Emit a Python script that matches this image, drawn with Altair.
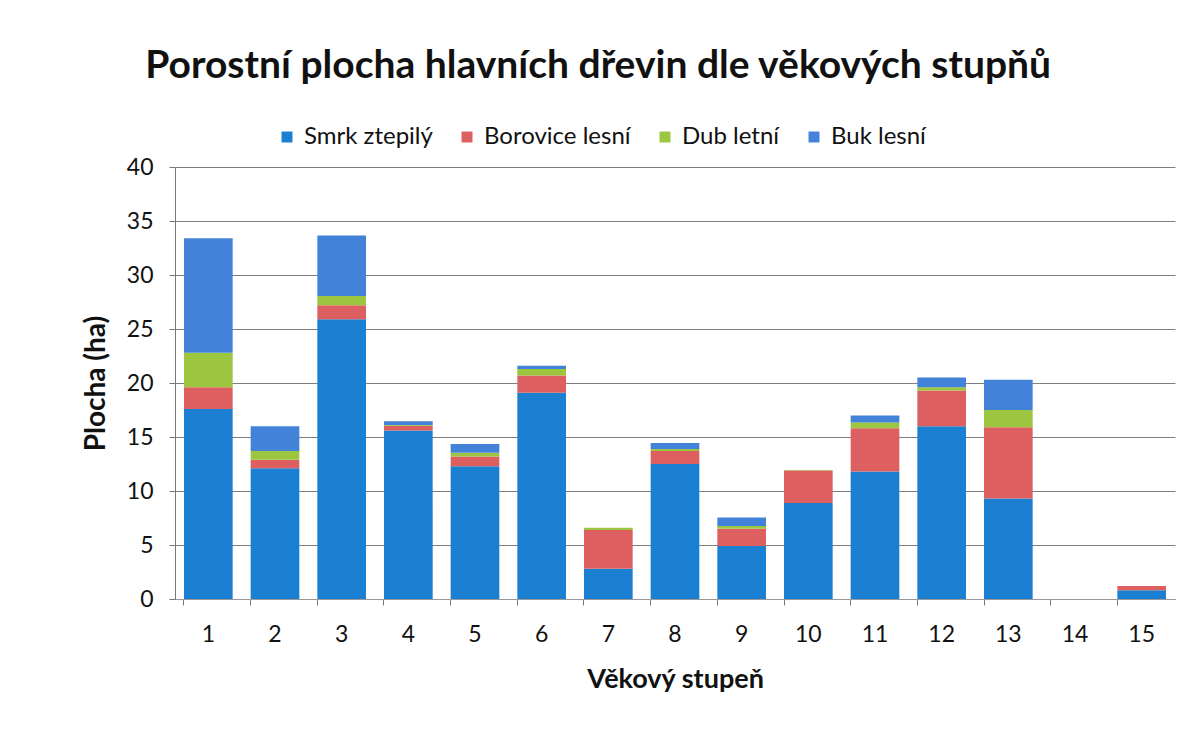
import altair as alt
import pandas as pd

stupne = [str(i) for i in range(1, 16)]
dreviny = ["Smrk ztepilý", "Borovice lesní", "Dub letní", "Buk lesní"]
smrk = [17.6, 12.1, 25.9, 15.6, 12.3, 19.1, 2.8, 12.5, 4.9, 8.9, 11.8, 16.0, 9.3, 0, 0.8]
borovice = [2.0, 0.8, 1.3, 0.45, 0.9, 1.6, 3.6, 1.2, 1.6, 3.0, 4.0, 3.3, 6.6, 0, 0.4]
dub = [3.2, 0.8, 0.85, 0.05, 0.35, 0.6, 0.2, 0.2, 0.25, 0.05, 0.55, 0.3, 1.6, 0, 0]
buk = [10.6, 2.3, 5.6, 0.35, 0.8, 0.3, 0, 0.55, 0.8, 0, 0.65, 0.9, 2.8, 0, 0]
barvy = ["#1b7fd2", "#de5f5f", "#9cc63f", "#4282d8"]

rows = []
for serie, hodnoty in zip(dreviny, [smrk, borovice, dub, buk]):
    for s, v in zip(stupne, hodnoty):
        rows.append({"stupen": s, "drevina": serie, "plocha": v, "poradi": dreviny.index(serie)})
df = pd.DataFrame(rows)

FONT = "Lato"

chart = alt.Chart(df).mark_bar().encode(
    x=alt.X("stupen:N", sort=stupne,
            scale=alt.Scale(paddingInner=0.27, paddingOuter=0.135),
            axis=alt.Axis(title="Věkový stupeň", labelAngle=0, bandPosition=0,
                          labelFontSize=23, labelPadding=18, labelColor="#111",
                          titleFontSize=27, titleFontWeight="bold", titlePadding=20,
                          titleColor="#111", tickSize=6, tickColor="#777",
                          domainColor="#999", grid=False, labelFont=FONT, titleFont=FONT)),
    y=alt.Y("plocha:Q", stack="zero",
            scale=alt.Scale(domain=[0, 40]),
            axis=alt.Axis(title="Plocha (ha)", values=list(range(0, 41, 5)),
                          labelFontSize=23, labelPadding=16, labelColor="#111",
                          titleFontSize=28, titleFontWeight="bold", titlePadding=16,
                          titleColor="#111", tickSize=6, tickColor="#777",
                          domainColor="#777", gridColor="#7f7f7f", gridWidth=1,
                          labelFont=FONT, titleFont=FONT)),
    color=alt.Color("drevina:N", sort=dreviny,
                    scale=alt.Scale(domain=dreviny, range=barvy),
                    legend=alt.Legend(title=None, orient="none", direction="horizontal",
                                      legendX=100, legendY=-42, symbolType="square",
                                      symbolSize=120, labelFontSize=24, labelFont=FONT,
                                      labelColor="#111", columnPadding=22, labelOffset=5,
                                      symbolStrokeWidth=0)),
    order=alt.Order("poradi:Q", sort="ascending"),
).properties(
    width=1000,
    height=432,
    padding={"left": 167, "top": 159, "right": 2, "bottom": 110},
    autosize=alt.AutoSizeParams(type="none"),
    title=alt.TitleParams("Porostní plocha hlavních dřevin dle věkových stupňů",
                          fontSize=39, font=FONT, fontWeight="bold", color="#111",
                          anchor="start", dx=63, offset=39),
).configure_view(stroke=None)

chart.save("out.html", embed_options={"renderer": "svg", "actions": False})
